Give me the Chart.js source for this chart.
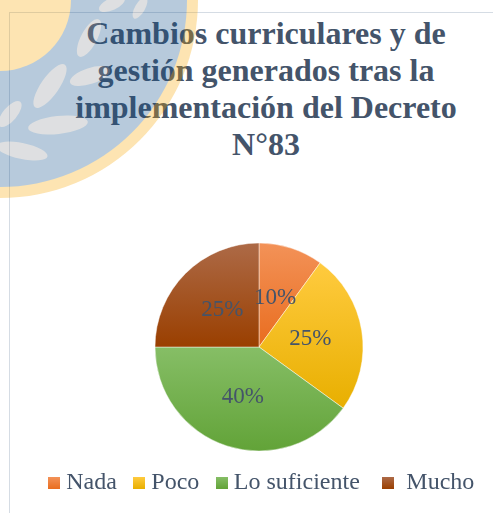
<!DOCTYPE html>
<html>
<head>
<meta charset="utf-8">
<script src="https://cdn.jsdelivr.net/npm/chart.js@4.4.1/dist/chart.umd.min.js"></script>
<style>
  html, body { margin: 0; padding: 0; width: 493px; height: 513px; overflow: hidden; background: #fff; }
  #frame { position: absolute; left: 9px; top: 12px; width: 530px; height: 530px; border-top: 1px solid #D5DCE4; border-left: 1px solid #D5DCE4; }
  #title { position: absolute; left: 9px; top: 15px; width: 514px; margin: 0; text-align: center;
           font: bold 32px/37px "Liberation Serif", "Times New Roman", serif; color: #44546A; }
  #pie { position: absolute; left: 0; top: 0; }
  #wm { position: absolute; left: 0; top: 0; pointer-events: none; }
</style>
</head>
<body>
<div id="frame"></div>
<h1 id="title">Cambios curriculares y de<br>gestión generados tras la<br>implementación del Decreto<br>N°83</h1>
<canvas id="pie" width="493" height="513"></canvas>

<!-- watermark logo that sits over the page -->
<svg id="wm" width="493" height="513" viewBox="0 0 493 513">
  <g opacity="0.3">
    <circle cx="0" cy="0" r="198" fill="#F7A600"/>
    <circle cx="0" cy="0" r="187" fill="#12528A"/>
    <circle cx="0" cy="0" r="71" fill="#F7A600"/>
    <g fill="#91969C">
      <ellipse cx="112" cy="4" rx="14" ry="6" transform="rotate(-25 112 4)"/>
      <ellipse cx="140" cy="8" rx="12" ry="5" transform="rotate(-60 140 8)"/>
      <ellipse cx="89" cy="38" rx="21" ry="8" transform="rotate(-62 89 38)"/>
      <ellipse cx="90" cy="76" rx="21" ry="8" transform="rotate(-18 90 76)"/>
      <ellipse cx="50" cy="86" rx="26" ry="9" transform="rotate(-55 50 86)"/>
      <ellipse cx="58" cy="125" rx="30" ry="9" transform="rotate(-6 58 125)"/>
      <ellipse cx="10" cy="114" rx="16" ry="7" transform="rotate(-50 10 114)"/>
      <ellipse cx="22" cy="151" rx="26" ry="8" transform="rotate(12 22 151)"/>
    </g>
  </g>
</svg>

<script>
const categories = ['Nada', 'Poco', 'Lo suficiente ', ' Mucho'];
const values = [10, 25, 40, 25];

const colorsTop = ['#F39258', '#FFCB3F', '#86BE66', '#AD6A47'];
const colorsBottom = ['#E96D1F', '#E8AF00', '#62A338', '#9A3F00'];
const pieRadius = 104;

// vertical gradient over each slice's own height, lighter at the top
function sliceGradient(c) {
  const chart = c.chart, area = chart.chartArea, i = c.dataIndex;
  if (!area) return colorsBottom[i];
  const cy = (area.top + area.bottom) / 2;
  const total = values.reduce((a, b) => a + b, 0);
  const before = values.slice(0, i).reduce((a, b) => a + b, 0);
  const start = before / total * 2 * Math.PI - Math.PI / 2;
  const end = start + values[i] / total * 2 * Math.PI;
  const ys = [cy, cy + pieRadius * Math.sin(start), cy + pieRadius * Math.sin(end)];
  [-Math.PI / 2, Math.PI / 2, 3 * Math.PI / 2].forEach(a => {
    if (a > start && a < end) ys.push(cy + pieRadius * Math.sin(a));
  });
  const g = chart.ctx.createLinearGradient(0, Math.min(...ys), 0, Math.max(...ys));
  g.addColorStop(0, colorsTop[i]);
  g.addColorStop(1, colorsBottom[i]);
  return g;
}

// small gradient squares for the legend
const legendBoxes = colorsTop.map((top, i) => {
  const cv = document.createElement('canvas');
  cv.width = 12; cv.height = 12;
  const x = cv.getContext('2d');
  const g = x.createLinearGradient(0, 0, 0, 12);
  g.addColorStop(0, top);
  g.addColorStop(1, colorsBottom[i]);
  x.fillStyle = g;
  x.fillRect(0, 0, 12, 12);
  return cv;
});

const pctLabels = {
  id: 'pctLabels',
  afterDatasetsDraw(chart) {
    const { ctx } = chart;
    ctx.save();
    ctx.font = '23px "Liberation Serif"';
    ctx.fillStyle = '#44546A';
    ctx.textAlign = 'center';
    ctx.textBaseline = 'middle';
    chart.getDatasetMeta(0).data.forEach((arc, i) => {
      const p = arc.tooltipPosition();
      ctx.fillText(values[i] + '%', p.x, p.y);
    });
    ctx.restore();
  }
};

// nudge the legend row a little to the right of the pie centre
const legendShift = {
  id: 'legendShift',
  afterLayout(chart) {
    chart.legend.left += 5;
    chart.legend.right += 5;
  }
};

new Chart(document.getElementById('pie'), {
  type: 'pie',
  data: {
    labels: categories,
    datasets: [{
      data: values,
      backgroundColor: sliceGradient,
      borderColor: 'rgba(255,255,255,0.45)',
      borderWidth: 1,
      radius: pieRadius
    }]
  },
  options: {
    responsive: false,
    animation: false,
    layout: { padding: { left: 25, right: 0, top: 245, bottom: 8 } },
    plugins: {
      tooltip: { enabled: false },
      legend: {
        position: 'bottom',
        labels: {
          usePointStyle: true,
          pointStyleWidth: 0.5,
          padding: 22,
          color: '#44546A',
          font: { family: 'Liberation Serif', size: 24 },
          generateLabels: chart =>
            Chart.overrides.pie.plugins.legend.labels.generateLabels(chart)
              .map((it, i) => ({ ...it, pointStyle: legendBoxes[i] }))
        }
      }
    }
  },
  plugins: [pctLabels, legendShift]
});
</script>
</body>
</html>
